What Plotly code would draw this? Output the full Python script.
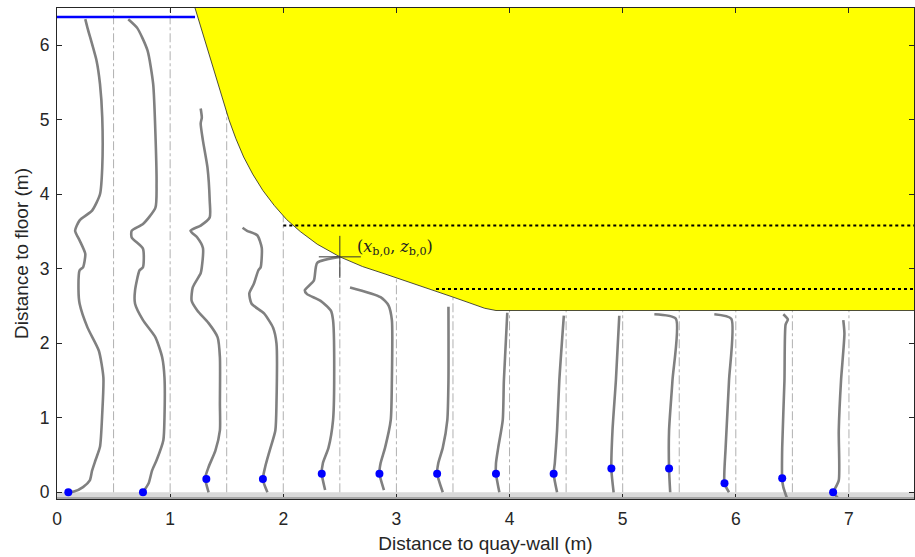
import plotly.graph_objects as go

# ---------------- data ----------------
grid_x = [0.5, 1.0, 1.5, 2.0, 2.5, 3.0, 3.5, 4.0, 4.5, 5.0, 5.5, 6.0, 6.5, 7.0]

boundary_x = [1.22, 1.27, 1.32, 1.37, 1.42, 1.47, 1.52, 1.58, 1.65, 1.73, 1.82, 1.92, 2.03, 2.15,
              2.30, 2.50, 2.70, 2.90, 3.10, 3.30, 3.50, 3.65, 3.78, 3.88, 7.60]
boundary_z = [6.50, 6.25, 6.00, 5.75, 5.50, 5.25, 5.00, 4.75, 4.50, 4.27, 4.05, 3.85, 3.66, 3.50,
              3.33, 3.16, 3.03, 2.93, 2.83, 2.73, 2.62, 2.54, 2.47, 2.44, 2.44]

water_x = [0.0, 1.22]
water_z = [6.38, 6.38]

dot_line1_x = [2.0, 7.6]
dot_line1_z = [3.58, 3.58]
dot_line2_x = [3.35, 7.6]
dot_line2_z = [2.73, 2.73]

cross_x = [2.5]
cross_z = [3.16]
cross_label = "(<i>x</i><sub>b,0</sub>, <i>z</i><sub>b,0</sub>)"

p1_x = [0.25, 0.27, 0.35, 0.38, 0.40, 0.40, 0.38, 0.31, 0.20, 0.16, 0.20, 0.25, 0.23, 0.20, 0.19, 0.20, 0.27, 0.37, 0.41, 0.40, 0.38, 0.34, 0.31, 0.29, 0.23, 0.15, 0.10]
p1_z = [6.35, 6.23, 5.79, 5.48, 5.03, 4.36, 4.00, 3.78, 3.65, 3.51, 3.38, 3.20, 3.02, 2.98, 2.71, 2.53, 2.21, 1.90, 1.54, 1.06, 0.61, 0.43, 0.29, 0.16, 0.07, 0.01, 0.00]
p2_x = [0.63, 0.71, 0.80, 0.85, 0.87, 0.88, 0.87, 0.76, 0.66, 0.66, 0.76, 0.76, 0.73, 0.69, 0.69, 0.76, 0.87, 0.93, 0.95, 0.95, 0.94, 0.88, 0.84, 0.81, 0.76]
p2_z = [6.35, 6.23, 5.93, 5.48, 4.81, 4.14, 3.82, 3.60, 3.51, 3.42, 3.27, 3.02, 2.98, 2.71, 2.53, 2.31, 2.08, 1.81, 1.54, 1.00, 0.70, 0.43, 0.29, 0.12, 0.00]
p3_x = [1.27, 1.28, 1.27, 1.29, 1.33, 1.35, 1.35, 1.27, 1.18, 1.24, 1.29, 1.28, 1.27, 1.20, 1.19, 1.24, 1.34, 1.42, 1.44, 1.44, 1.44, 1.40, 1.34, 1.31, 1.34]
p3_z = [5.15, 5.03, 4.95, 4.72, 4.36, 3.91, 3.69, 3.58, 3.51, 3.42, 3.28, 3.02, 2.94, 2.75, 2.57, 2.44, 2.27, 2.08, 1.81, 1.19, 0.83, 0.56, 0.34, 0.19, 0.00]
p4_x = [1.64, 1.68, 1.77, 1.81, 1.80, 1.78, 1.74, 1.70, 1.72, 1.83, 1.91, 1.94, 1.94, 1.93, 1.88, 1.84, 1.82, 1.86]
p4_z = [3.55, 3.51, 3.45, 3.28, 3.02, 2.98, 2.80, 2.67, 2.53, 2.40, 2.21, 2.00, 1.19, 0.83, 0.56, 0.34, 0.17, 0.00]
p5_x = [2.50, 2.30, 2.27, 2.19, 2.21, 2.33, 2.42, 2.44, 2.45, 2.44, 2.40, 2.35, 2.34, 2.37]
p5_z = [3.16, 3.08, 2.84, 2.71, 2.66, 2.57, 2.44, 2.31, 1.50, 0.97, 0.60, 0.39, 0.25, 0.03]
p6_x = [2.59, 2.86, 2.93, 2.96, 2.96, 2.95, 2.90, 2.86, 2.85, 2.89]
p6_z = [2.75, 2.62, 2.51, 2.31, 1.50, 0.97, 0.60, 0.39, 0.25, 0.03]
p7_x = [3.46, 3.46, 3.45, 3.41, 3.37, 3.36, 3.41]
p7_z = [2.49, 1.50, 0.97, 0.60, 0.39, 0.25, 0.00]
p8_x = [3.98, 3.95, 3.94, 3.90, 3.88, 3.88, 3.91]
p8_z = [2.41, 1.50, 0.97, 0.60, 0.39, 0.25, 0.00]
p9_x = [4.48, 4.44, 4.42, 4.40, 4.39, 4.42]
p9_z = [2.37, 1.50, 0.83, 0.39, 0.25, 0.00]
p10_x = [4.97, 4.94, 4.91, 4.90, 4.92]
p10_z = [2.37, 1.50, 0.83, 0.31, 0.00]
p11_x = [5.28, 5.47, 5.44, 5.41, 5.41, 5.42]
p11_z = [2.39, 2.33, 1.50, 0.83, 0.31, 0.00]
p12_x = [5.81, 5.96, 5.94, 5.91, 5.90, 5.94]
p12_z = [2.39, 2.33, 1.50, 0.60, 0.12, 0.00]
p13_x = [6.42, 6.46, 6.44, 6.43, 6.41, 6.41, 6.42, 6.45]
p13_z = [2.39, 2.32, 2.25, 1.50, 0.60, 0.17, 0.07, -0.07]
p14_x = [6.95, 6.96, 6.93, 6.91, 6.91, 6.87, 6.86, 6.90]
p14_z = [2.31, 2.13, 1.50, 0.83, 0.16, 0.03, 0.00, -0.07]

profiles_x = [p1_x, p2_x, p3_x, p4_x, p5_x, p6_x, p7_x, p8_x, p9_x, p10_x, p11_x, p12_x, p13_x, p14_x]
profiles_z = [p1_z, p2_z, p3_z, p4_z, p5_z, p6_z, p7_z, p8_z, p9_z, p10_z, p11_z, p12_z, p13_z, p14_z]

dots_x = [0.10, 0.76, 1.32, 1.82, 2.34, 2.85, 3.36, 3.88, 4.39, 4.90, 5.41, 5.90, 6.41, 6.86]
dots_z = [0.00, 0.00, 0.18, 0.18, 0.25, 0.25, 0.25, 0.25, 0.25, 0.32, 0.32, 0.12, 0.19, 0.00]

x_ticks = [0, 1, 2, 3, 4, 5, 6, 7]
y_ticks = [0, 1, 2, 3, 4, 5, 6]
x_range = [0, 7.575]
y_range = [-0.09, 6.5]
floor_band = [-0.09, 0.0]

# ---------------- figure ----------------
fig = go.Figure()

# dash-dot vertical guide lines
for gx in grid_x:
    fig.add_trace(go.Scatter(x=[gx, gx], y=[0, y_range[1]], mode="lines",
                             line=dict(color="#b0b0b0", width=1, dash="dashdot"),
                             hoverinfo="skip", showlegend=False))

# yellow structure
fig.add_trace(go.Scatter(x=boundary_x + [x_range[1] + 0.1, x_range[1] + 0.1],
                         y=boundary_z + [boundary_z[-1], y_range[1]],
                         mode="lines", fill="toself", fillcolor="#ffff00",
                         line=dict(color="#222222", width=0.8),
                         hoverinfo="skip", showlegend=False))

# dotted lines
for lx, lz in [(dot_line1_x, dot_line1_z), (dot_line2_x, dot_line2_z)]:
    fig.add_trace(go.Scatter(x=lx, y=lz, mode="lines",
                             line=dict(color="black", width=2, dash="dot"),
                             hoverinfo="skip", showlegend=False))

# water level line
fig.add_trace(go.Scatter(x=water_x, y=water_z, mode="lines",
                         line=dict(color="#0000ff", width=2.5),
                         hoverinfo="skip", showlegend=False))

# gray profiles
for px_, pz_ in zip(profiles_x, profiles_z):
    fig.add_trace(go.Scatter(x=px_, y=pz_, mode="lines",
                             line=dict(color="#808080", width=2.6, shape="spline", smoothing=0.6),
                             hoverinfo="skip", showlegend=False))

# blue dots
fig.add_trace(go.Scatter(x=dots_x, y=dots_z, mode="markers",
                         marker=dict(color="#0000ff", size=8),
                         hoverinfo="skip", showlegend=False, cliponaxis=False))

# crosshair
fig.add_trace(go.Scatter(x=cross_x, y=cross_z, mode="markers",
                         marker=dict(symbol="cross-thin", size=30,
                                     line=dict(color="#333333", width=1)),
                         hoverinfo="skip", showlegend=False))

# floor band
fig.add_shape(type="rect", xref="x", yref="y", x0=x_range[0], x1=x_range[1],
              y0=floor_band[0], y1=floor_band[1], fillcolor="#d9d9d9",
              line=dict(width=0), layer="below")
fig.add_shape(type="line", xref="x", yref="y", x0=x_range[0], x1=x_range[1],
              y0=floor_band[0] + 0.01, y1=floor_band[0] + 0.01,
              line=dict(color="#a6a6a6", width=2.5), layer="above")

fig.add_annotation(x=cross_x[0] + 0.13, y=cross_z[0] + 0.12, text=cross_label,
                   showarrow=False, xanchor="left", yanchor="middle",
                   font=dict(family="DejaVu Serif, serif", size=16, color="#222222"))

axis_common = dict(showgrid=False, zeroline=False, ticks="inside", ticklen=5,
                   tickcolor="#262626", linecolor="#262626", linewidth=1,
                   mirror="ticks", showline=True,
                   tickfont=dict(family="Liberation Sans, Arial", size=17.5, color="#262626"))

fig.update_layout(
    width=915, height=557,
    margin=dict(l=57, r=1, t=8, b=58),
    paper_bgcolor="white", plot_bgcolor="white",
    xaxis=dict(range=x_range, tickvals=x_ticks, ticklabelstandoff=4,
               title=dict(text="Distance to quay-wall (m)", standoff=8,
                          font=dict(family="Liberation Sans, Arial", size=19, color="#262626")),
               **axis_common),
    yaxis=dict(range=y_range, tickvals=y_ticks, ticklabelstandoff=3,
               title=dict(text="Distance to floor (m)", standoff=6,
                          font=dict(family="Liberation Sans, Arial", size=19, color="#262626")),
               **axis_common),
)

fig.write_html("out.html")
